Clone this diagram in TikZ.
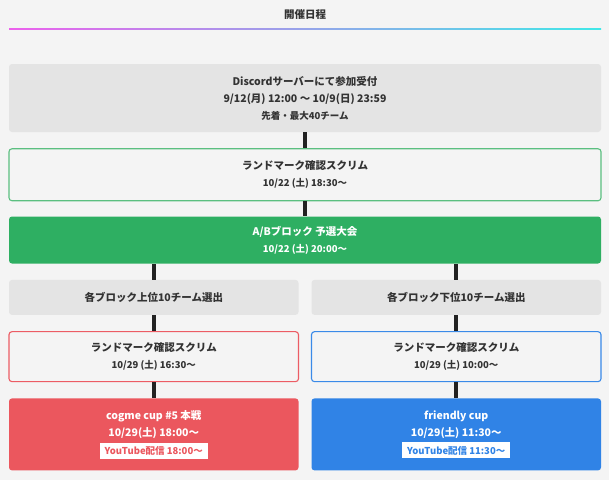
\documentclass[tikz,border=0pt]{standalone}
\usepackage{fontspec}
\setmainfont{Noto Sans CJK JP}
\usetikzlibrary{positioning}
\definecolor{bggray}{HTML}{F4F4F4}
\definecolor{boxgray}{HTML}{E4E4E4}
\definecolor{cgreen}{HTML}{2EAF62}
\definecolor{cgreenl}{HTML}{5BBF80}
\definecolor{cred}{HTML}{EB575E}
\definecolor{credl}{HTML}{EC5C64}
\definecolor{cblue}{HTML}{3083E6}
\definecolor{cbluel}{HTML}{3A8AE8}
\definecolor{ctext}{HTML}{333333}
\definecolor{cline}{HTML}{222222}
\newcommand\datefont{\fontsize{9.5}{16}\selectfont}
\newcommand\ytbox[2]{{\setlength\fboxsep{3.5pt}\colorbox{white}{\fontsize{9.5}{10}\selectfont\color{#1}\,#2\,}}}
\tikzstyle{stage}=[rectangle,rounded corners=3pt,align=center,text=ctext,inner sep=0pt,
font=\bfseries\fontsize{10.5}{17}\selectfont]
\tikzstyle{full}=[stage,minimum width=592pt]
\tikzstyle{half}=[stage,minimum width=289.5pt]
\tikzstyle{info}=[fill=boxgray]
\tikzset{scrim/.style={fill=bggray,draw=#1,line width=1.1pt}}
\tikzstyle{link}=[draw=cline,line width=3.6pt]

\begin{document}
\begin{tikzpicture}[x=1pt,y=-1pt,node distance=16pt]

\fill[bggray] (0,0) rectangle (609,480);
\node[font=\bfseries\fontsize{10.5}{12}\selectfont,text=ctext] (title) at (305,15) {開催日程};
\shade[left color={rgb,255:red,236;green,96;blue,236},right color={rgb,255:red,64;green,232;blue,232}]
  (9,28.3) rectangle (601,29.8);

\node[full,info,minimum height=68pt] (entry) at (305,98)
  {Discordサーバーにて参加受付\\9/12(月) 12:00 〜 10/9(日) 23:59\\{\datefont 先着・最大40チーム}};
\node[full,scrim=cgreenl,minimum height=52pt,below=of entry] (scrim1)
  {ランドマーク確認スクリム\\{\datefont 10/22 (土) 18:30〜}};
\node[full,fill=cgreen,text=white,minimum height=47pt,below=15pt of scrim1] (prelim)
  {A/Bブロック 予選大会\\{\datefont 10/22 (土) 20:00〜}};

\node[half,info,minimum height=35pt,below right=16pt and 0pt of prelim.south west] (upper)
  {各ブロック上位10チーム選出};
\node[half,info,minimum height=35pt,below left=16pt and 0pt of prelim.south east] (lower)
  {各ブロック下位10チーム選出};
\node[half,scrim=credl,minimum height=50pt,below=of upper] (scrim2)
  {ランドマーク確認スクリム\\{\datefont 10/29 (土) 16:30〜}};
\node[half,scrim=cbluel,minimum height=50pt,below=of lower] (scrim3)
  {ランドマーク確認スクリム\\{\datefont 10/29 (土) 10:00〜}};
\node[half,fill=cred,text=white,minimum height=72pt,below=of scrim2] (final)
  {cogme cup \#5 本戦\\10/29(土) 18:00〜\\[1pt]\ytbox{cred}{YouTube配信 18:00〜}};
\node[half,fill=cblue,text=white,minimum height=72pt,below=of scrim3] (friendly)
  {friendly cup\\10/29(土) 11:30〜\\[1pt]\ytbox{cblue}{YouTube配信 11:30〜}};

\draw[link] (entry) -- (scrim1);
\draw[link] (scrim1) -- (prelim);
\draw[link] (upper.north) -- (upper.north |- prelim.south);
\draw[link] (lower.north) -- (lower.north |- prelim.south);
\draw[link] (upper) -- (scrim2);
\draw[link] (lower) -- (scrim3);
\draw[link] (scrim2) -- (final);
\draw[link] (scrim3) -- (friendly);

\end{tikzpicture}
\end{document}
